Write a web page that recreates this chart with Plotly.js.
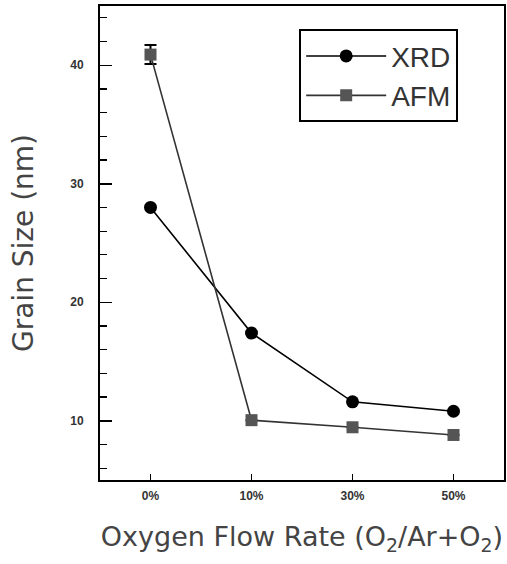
<!DOCTYPE html>
<html>
<head>
<meta charset="utf-8">
<script src="https://cdn.plot.ly/plotly-3.0.1.min.js"></script>
<style>html,body{margin:0;padding:0;background:#fff;}#chart{width:507px;height:564px;}</style>
</head>
<body>
<div id="chart"></div>
<script>
const categories = ["0%", "10%", "30%", "50%"];
const xrdValues = [28.0, 17.4, 11.6, 10.8];
const afmValues = [40.9, 10.05, 9.45, 8.8];
const afmErrors = [0.8, 0, 0, 0];
const yTickValues = [10, 20, 30, 40];
const yTickLabels = ["10", "20", "30", "40"];

const traces = [
  {
    name: "XRD", x: categories, y: xrdValues, type: "scatter", mode: "lines+markers",
    line: {color: "#000", width: 1.6},
    marker: {symbol: "circle", size: 13, color: "#000"}
  },
  {
    name: "AFM", x: categories, y: afmValues, type: "scatter", mode: "lines+markers",
    line: {color: "#333", width: 1.6},
    marker: {symbol: "square", size: 12, color: "#555"},
    error_y: {type: "data", array: afmErrors, visible: true, color: "#000", thickness: 2, width: 6}
  }
];

const layout = {
  width: 507, height: 564,
  margin: {l: 100, r: 3, t: 6, b: 84},
  paper_bgcolor: "#fff", plot_bgcolor: "#fff",
  showlegend: true,
  legend: {
    x: 0.493, y: 0.951, xanchor: "left", yanchor: "top",
    bordercolor: "#000", borderwidth: 2, bgcolor: "#fff",
    font: {family: "Liberation Sans, Arial, sans-serif", size: 28, color: "#333"},
    itemwidth: 80, tracegroupgap: 0
  },
  xaxis: {
    type: "category", range: [-0.5, 3.5],
    showline: true, linecolor: "#000", linewidth: 2, mirror: true,
    ticks: "inside", ticklen: 6, tickwidth: 1.5, tickcolor: "#000",
    showgrid: false, zeroline: false,
    tickfont: {family: "Liberation Sans, Arial, sans-serif", size: 12, color: "#333", weight: "bold"},
    ticklabelstandoff: 4,
    title: {text: "Oxygen Flow Rate (O<sub>2</sub>/Ar+O<sub>2</sub>)", font: {family: "DejaVu Sans, sans-serif", size: 27, color: "#444"}, standoff: 25}
  },
  yaxis: {
    range: [5, 45],
    showline: true, linecolor: "#000", linewidth: 2, mirror: true,
    ticks: "inside", ticklen: 12, tickwidth: 1.5, tickcolor: "#000",
    tickvals: yTickValues, ticktext: yTickLabels,
    minor: {dtick: 2, ticks: "inside", ticklen: 7, tickwidth: 1.2, tickcolor: "#000", showgrid: false},
    showgrid: false, zeroline: false,
    tickfont: {family: "Liberation Sans, Arial, sans-serif", size: 12, color: "#333", weight: "bold"},
    ticklabelstandoff: 12,
    title: {text: "Grain Size (nm)", font: {family: "DejaVu Sans, sans-serif", size: 28, color: "#444"}, standoff: 28}
  }
};

Plotly.newPlot("chart", traces, layout, {displayModeBar: false, staticPlot: true});
</script>
</body>
</html>
